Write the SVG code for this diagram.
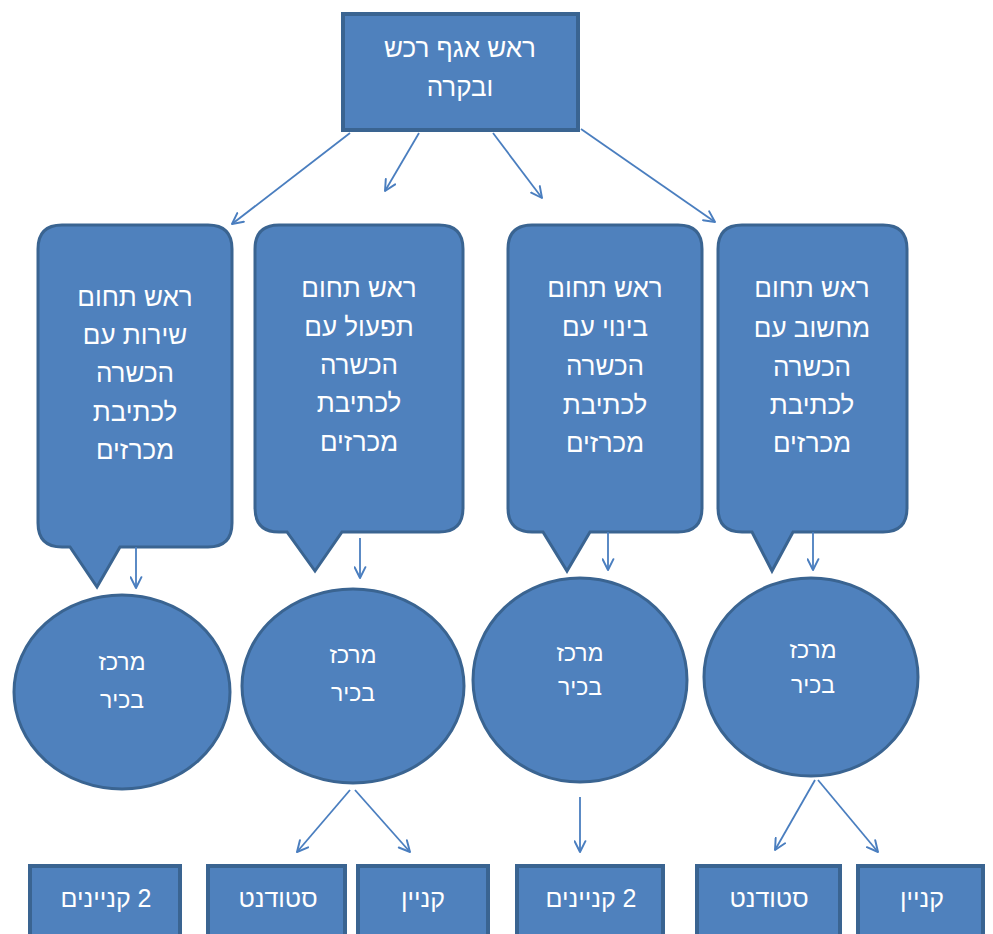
<svg xmlns="http://www.w3.org/2000/svg" width="993" height="934" viewBox="0 0 993 934">
  <defs>
    <marker id="arrow" viewBox="0 0 12 12" refX="11" refY="6" markerWidth="13" markerHeight="13" orient="auto" markerUnits="userSpaceOnUse">
      <path d="M1,1 L11,6 L1,11" fill="none" stroke="#4A7EBF" stroke-width="1.8" stroke-linecap="round" stroke-linejoin="round"/>
    </marker>
    <style>
      .shape { fill: #4F81BD; stroke: #3A6491; stroke-width: 3; }
      .box { fill: #4F81BD; stroke: #3A6491; stroke-width: 4; }
      .lbl { fill: #FFFFFF; font-family: "Liberation Sans", "DejaVu Sans", sans-serif; text-anchor: middle; direction: rtl; }
      .big { font-size: 26px; }
      .mid { font-size: 23px; }
      .sm { font-size: 25px; }
      .conn line { stroke: #4A7EBF; stroke-width: 1.8; marker-end: url(#arrow); }
    </style>
  </defs>
  <rect width="993" height="934" fill="#FFFFFF"/>

  <!-- head of department -->
  <g id="head">
    <rect class="box" x="343" y="14" width="235" height="116"/>
    <text class="lbl big" x="460" y="57">ראש אגף רכש</text>
    <text class="lbl big" x="460" y="96">ובקרה</text>
  </g>

  <!-- section heads (speech callouts) -->
  <g id="head-service">
    <path class="shape" d="M62,225 H208 Q232,225 232,249 V523 Q232,547 208,547 H120 L97,587 L70,547 H62 Q38,547 38,523 V249 Q38,225 62,225 Z"/>
    <text class="lbl big" x="135" y="306">ראש תחום</text>
    <text class="lbl big" x="135" y="344">שירות עם</text>
    <text class="lbl big" x="135" y="382">הכשרה</text>
    <text class="lbl big" x="135" y="421">לכתיבת</text>
    <text class="lbl big" x="135" y="459">מכרזים</text>
  </g>
  <g id="head-operations">
    <path class="shape" d="M279,225 H439 Q463,225 463,249 V508 Q463,532 439,532 H342 L315,571 L287,532 H279 Q255,532 255,508 V249 Q255,225 279,225 Z"/>
    <text class="lbl big" x="359" y="297">ראש תחום</text>
    <text class="lbl big" x="359" y="336">תפעול עם</text>
    <text class="lbl big" x="359" y="374">הכשרה</text>
    <text class="lbl big" x="359" y="412">לכתיבת</text>
    <text class="lbl big" x="359" y="451">מכרזים</text>
  </g>
  <g id="head-construction">
    <path class="shape" d="M532,225 H678 Q702,225 702,249 V508 Q702,532 678,532 H590 L567,571 L543,532 H532 Q508,532 508,508 V249 Q508,225 532,225 Z"/>
    <text class="lbl big" x="605" y="297">ראש תחום</text>
    <text class="lbl big" x="605" y="336">בינוי עם</text>
    <text class="lbl big" x="605" y="375">הכשרה</text>
    <text class="lbl big" x="605" y="414">לכתיבת</text>
    <text class="lbl big" x="605" y="452">מכרזים</text>
  </g>
  <g id="head-computing">
    <path class="shape" d="M742,225 H883 Q907,225 907,249 V508 Q907,532 883,532 H793 L772,571 L752,532 H742 Q718,532 718,508 V249 Q718,225 742,225 Z"/>
    <text class="lbl big" x="812" y="297">ראש תחום</text>
    <text class="lbl big" x="812" y="337">מחשוב עם</text>
    <text class="lbl big" x="812" y="376">הכשרה</text>
    <text class="lbl big" x="812" y="414">לכתיבת</text>
    <text class="lbl big" x="812" y="452">מכרזים</text>
  </g>

  <!-- senior centres -->
  <g id="centre-1">
    <ellipse class="shape" cx="122" cy="692" rx="108" ry="97"/>
    <text class="lbl mid" x="122" y="670">מרכז</text>
    <text class="lbl mid" x="122" y="708">בכיר</text>
  </g>
  <g id="centre-2">
    <ellipse class="shape" cx="353" cy="686" rx="111" ry="97"/>
    <text class="lbl mid" x="353" y="663">מרכז</text>
    <text class="lbl mid" x="353" y="701">בכיר</text>
  </g>
  <g id="centre-3">
    <ellipse class="shape" cx="580" cy="680" rx="107" ry="102"/>
    <text class="lbl mid" x="580" y="661">מרכז</text>
    <text class="lbl mid" x="580" y="695">בכיר</text>
  </g>
  <g id="centre-4">
    <ellipse class="shape" cx="811" cy="677" rx="107" ry="99"/>
    <text class="lbl mid" x="813" y="658">מרכז</text>
    <text class="lbl mid" x="813" y="693">בכיר</text>
  </g>

  <!-- staff -->
  <g id="buyers-1">
    <rect class="box" x="30" y="866" width="150" height="80"/>
    <text class="lbl sm" x="106" y="907">2 קניינים</text>
  </g>
  <g id="student-1">
    <rect class="box" x="208" y="866" width="137" height="80"/>
    <text class="lbl sm" x="278" y="907">סטודנט</text>
  </g>
  <g id="buyer-1">
    <rect class="box" x="358" y="866" width="130" height="80"/>
    <text class="lbl sm" x="423" y="907">קניין</text>
  </g>
  <g id="buyers-2">
    <rect class="box" x="517" y="866" width="146" height="80"/>
    <text class="lbl sm" x="591" y="907">2 קניינים</text>
  </g>
  <g id="student-2">
    <rect class="box" x="697" y="866" width="143" height="80"/>
    <text class="lbl sm" x="769" y="907">סטודנט</text>
  </g>
  <g id="buyer-2">
    <rect class="box" x="858" y="866" width="125" height="80"/>
    <text class="lbl sm" x="922" y="907">קניין</text>
  </g>

  <!-- connectors -->
  <g id="connectors" class="conn">
    <line x1="350" y1="133" x2="232" y2="224"/>
    <line x1="419" y1="133" x2="385" y2="191"/>
    <line x1="493" y1="133" x2="542" y2="198"/>
    <line x1="581" y1="129" x2="715" y2="222"/>
    <line x1="136" y1="547" x2="136" y2="588"/>
    <line x1="360" y1="538" x2="360" y2="578"/>
    <line x1="608" y1="532" x2="608" y2="570"/>
    <line x1="813" y1="532" x2="813" y2="570"/>
    <line x1="350" y1="790" x2="297" y2="852"/>
    <line x1="355" y1="790" x2="410" y2="852"/>
    <line x1="580" y1="797" x2="580" y2="852"/>
    <line x1="815" y1="780" x2="775" y2="850"/>
    <line x1="818" y1="780" x2="878" y2="852"/>
  </g>
</svg>
